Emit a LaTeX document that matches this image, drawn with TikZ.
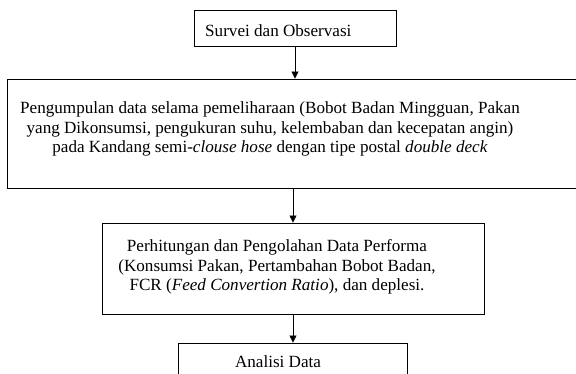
\documentclass[tikz,border=0pt]{standalone}
\usepackage{fontspec}
\setmainfont{Liberation Serif}
\usetikzlibrary{arrows.meta}
\begin{document}
\begin{tikzpicture}[x=1pt,y=1pt,
  boxstyle/.style={draw=black,line width=0.9pt,inner sep=0pt},
  txt/.style={inner sep=0pt,font=\fontsize{17.1}{19.5}\selectfont},
  arr/.style={line width=0.8pt,-{Triangle[width=7pt,length=7pt]}}]
\useasboundingbox (0,0) rectangle (576,-374);
\node[boxstyle,minimum width=202pt,minimum height=36pt] (b1) at (295,-28) {};
\node[boxstyle,minimum width=575pt,minimum height=109pt] (b2) at (294.5,-133.5) {};
\node[boxstyle,minimum width=382pt,minimum height=91pt] (b3) at (293,-268.5) {};
\node[boxstyle,minimum width=229pt,minimum height=60pt] (b4) at (292.5,-373) {};
\node[txt,anchor=base west] (t1) at (205,-37) {Survei dan Observasi};
\node[txt,align=center] (t2) at (270,-129) {Pengumpulan data selama pemeliharaan (Bobot Badan Mingguan, Pakan\\yang Dikonsumsi, pengukuran suhu, kelembaban dan kecepatan angin)\\pada Kandang semi-\textit{clouse hose} dengan tipe postal \textit{double deck}};
\node[txt,align=center] (t3) at (277,-267) {Perhitungan dan Pengolahan Data Performa\\(Konsumsi Pakan, Pertambahan Bobot Badan,\\FCR (\textit{Feed Convertion Ratio}), dan deplesi.};
\node[txt,anchor=base] (t4) at (278,-367) {Analisi Data};
\draw[arr] (b1.south) -- (b1.south |- b2.north);
\draw[arr] (b3.north |- b2.south) -- (b3.north);
\draw[arr] (b3.south) -- (b3.south |- b4.north);
\end{tikzpicture}
\end{document}
